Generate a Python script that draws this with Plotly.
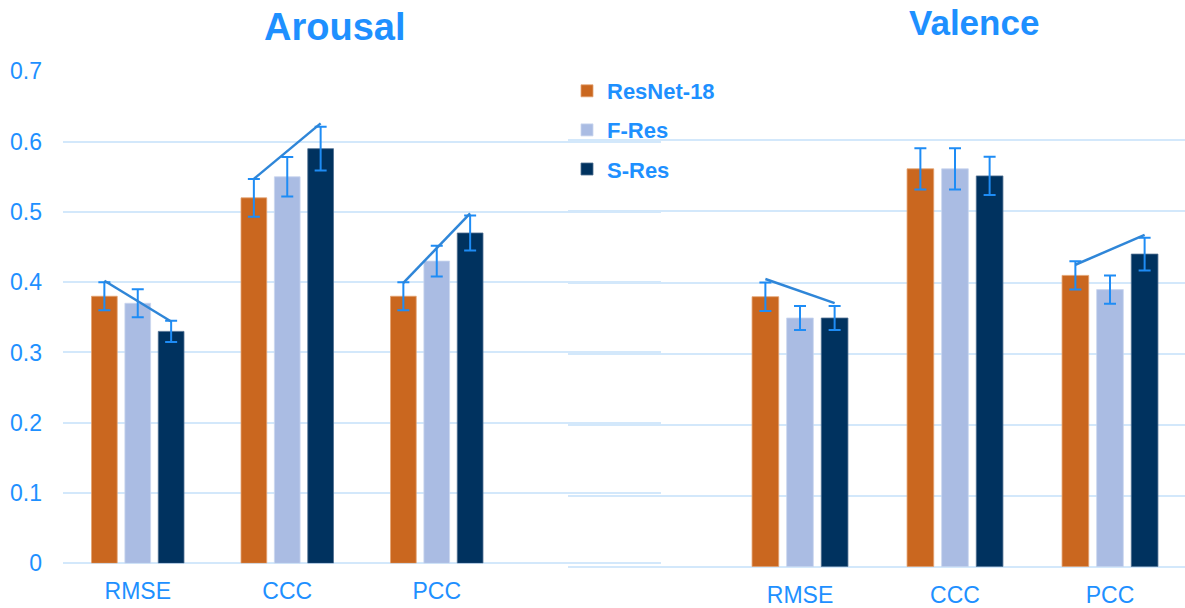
import plotly.graph_objects as go

# ---------------- data ----------------
metrics = ["RMSE", "CCC", "PCC"]
series_names = ["ResNet-18", "F-Res", "S-Res"]

arousal_resnet = [0.38, 0.52, 0.38]
arousal_fres = [0.37, 0.55, 0.43]
arousal_sres = [0.33, 0.59, 0.47]
arousal_resnet_err = [0.020, 0.027, 0.020]
arousal_fres_err = [0.020, 0.028, 0.022]
arousal_sres_err = [0.015, 0.031, 0.025]
arousal_trend_start = [0.402, 0.547, 0.399]
arousal_trend_end = [0.344, 0.626, 0.498]

valence_resnet = [0.38, 0.56, 0.41]
valence_fres = [0.35, 0.56, 0.39]
valence_sres = [0.35, 0.55, 0.44]
valence_resnet_err = [0.020, 0.029, 0.020]
valence_fres_err = [0.017, 0.029, 0.020]
valence_sres_err = [0.017, 0.027, 0.023]
valence_trend_start = [0.405, None, 0.425]
valence_trend_end = [0.371, None, 0.467]

yticks = [0, 0.1, 0.2, 0.3, 0.4, 0.5, 0.6, 0.7]
ytick_text = ["0", "0.1", "0.2", "0.3", "0.4", "0.5", "0.6", "0.7"]

# ---------------- style ----------------
W, H = 1185, 608
colors = ["#CA671F", "#AABCE3", "#00325F"]
edge_colors = ["#E3A271", "#C9D5EF", "#4F6F90"]
text_blue = "#1E90FF"
err_blue = "#1E8CF5"
trend_blue = "#2F86D8"
grid_col = "#D3E8FB"
font_fam = "Liberation Sans, Arial, sans-serif"
bargap = 0.33
bargroupgap = 0.23
slot = (1 - bargap) / 3

fig = go.Figure()

left_x = [0, 1, 2]
right_x = [1, 2, 3]

left_vals = [arousal_resnet, arousal_fres, arousal_sres]
left_errs = [arousal_resnet_err, arousal_fres_err, arousal_sres_err]
right_vals = [valence_resnet, valence_fres, valence_sres]
right_errs = [valence_resnet_err, valence_fres_err, valence_sres_err]

for k, name in enumerate(series_names):
    fig.add_trace(go.Bar(
        x=left_x, y=left_vals[k], name=name, legendgroup=name,
        marker=dict(color=colors[k], line=dict(width=0.8, color=edge_colors[k])),
        error_y=dict(type="data", array=left_errs[k], color=err_blue,
                     thickness=2, width=6),
        xaxis="x", yaxis="y", showlegend=True,
    ))
for k, name in enumerate(series_names):
    fig.add_trace(go.Bar(
        x=right_x, y=right_vals[k], name=name, legendgroup=name,
        marker=dict(color=colors[k], line=dict(width=0.8, color=edge_colors[k])),
        error_y=dict(type="data", array=right_errs[k], color=err_blue,
                     thickness=2, width=6),
        xaxis="x2", yaxis="y2", showlegend=False,
    ))

# trend lines between ResNet-18 and S-Res caps
for xs, st, en, xa, ya in [(left_x, arousal_trend_start, arousal_trend_end, "x", "y"),
                           (right_x, valence_trend_start, valence_trend_end, "x2", "y2")]:
    for i, s, e in zip(xs, st, en):
        if s is None:
            continue
        fig.add_trace(go.Scatter(
            x=[i - slot, i + slot], y=[s, e], mode="lines",
            line=dict(color=trend_blue, width=2.5),
            xaxis=xa, yaxis=ya, showlegend=False, hoverinfo="skip",
        ))

axis_font = dict(family=font_fam, size=23, color=text_blue)

fig.update_layout(
    width=W, height=H,
    margin=dict(l=0, r=0, t=0, b=0, autoexpand=False),
    paper_bgcolor="white", plot_bgcolor="rgba(0,0,0,0)",
    barmode="group", bargap=bargap, bargroupgap=bargroupgap,
    font=dict(family=font_fam, color=text_blue),
    xaxis=dict(domain=[63 / W, 661 / W], range=[-0.5, 3.5],
               tickvals=left_x, ticktext=metrics, tickfont=axis_font,
               showgrid=False, zeroline=False, showline=False, ticks="",
               ticklabelstandoff=12, anchor="y", automargin=False),
    yaxis=dict(domain=[(H - 563.3) / H, (H - 71) / H], range=[0, 0.7005],
               tickvals=yticks, ticktext=ytick_text, tickfont=axis_font,
               showgrid=True, gridcolor=grid_col, gridwidth=2,
               zeroline=True, zerolinecolor=grid_col, zerolinewidth=2,
               showline=False, ticks="", ticklabelstandoff=20, anchor="x",
               automargin=False),
    xaxis2=dict(domain=[567.5 / W, 1], range=[-0.5, 3.5 - 2.5 / 155],
                tickvals=right_x, ticktext=metrics, tickfont=axis_font,
                showgrid=False, zeroline=False, showline=False, ticks="",
                ticklabelstandoff=12, anchor="y2", automargin=False),
    yaxis2=dict(domain=[(H - 566.7) / H, (H - 69) / H], range=[0, 0.7005],
                tickvals=yticks, showticklabels=False,
                showgrid=True, gridcolor=grid_col, gridwidth=2,
                zeroline=True, zerolinecolor=grid_col, zerolinewidth=2,
                showline=False, ticks="", anchor="x2", automargin=False),
    legend=dict(x=567 / W, y=(H - 70) / H, xanchor="left", yanchor="top",
                bgcolor="rgba(0,0,0,0)", borderwidth=0,
                font=dict(family=font_fam, size=22, color=text_blue, weight="bold"),
                tracegroupgap=7.5, itemwidth=30),
    annotations=[
        dict(text="<b>Arousal</b>", x=334.5 / W, y=(H - 27) / H, xref="paper",
             yref="paper", xanchor="center", yanchor="middle", showarrow=False,
             font=dict(family=font_fam, size=38, color=text_blue)),
        dict(text="<b>Valence</b>", x=974 / W, y=(H - 22.5) / H, xref="paper",
             yref="paper", xanchor="center", yanchor="middle", showarrow=False,
             font=dict(family=font_fam, size=35, color=text_blue)),
    ],
)

fig.write_html("out.html",
               config={"displayModeBar": False},
               post_script="document.body.style.margin='0';document.body.style.overflow='hidden';")
